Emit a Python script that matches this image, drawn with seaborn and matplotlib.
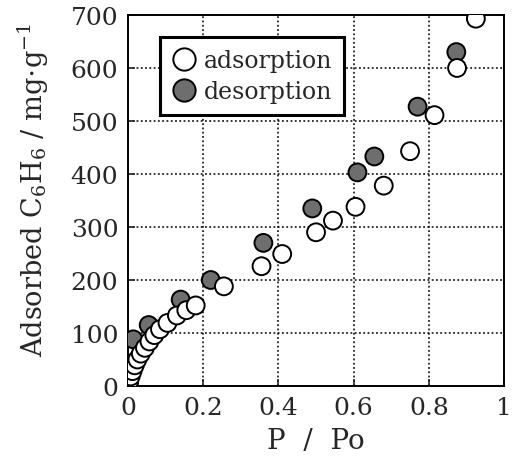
import numpy as np
import pandas as pd
import matplotlib
matplotlib.use("Agg")
import matplotlib.pyplot as plt
import seaborn as sns

# Données
p_ads = [0.003, 0.007, 0.012, 0.018, 0.025, 0.034, 0.045, 0.057, 0.070, 0.085,
         0.105, 0.130, 0.155, 0.180, 0.255, 0.355, 0.410, 0.500, 0.545, 0.605,
         0.680, 0.750, 0.815, 0.875, 0.925]
q_ads = [8, 18, 28, 39, 50, 61, 72, 84, 96, 107,
         119, 133, 143, 152, 188, 226, 249, 290, 312, 338,
         378, 443, 511, 600, 693]
p_des = [0.002, 0.014, 0.055, 0.140, 0.220, 0.360, 0.490, 0.610, 0.655, 0.770, 0.873]
q_des = [3, 88, 115, 163, 200, 270, 335, 403, 433, 527, 630]

x_ticks = [0, 0.2, 0.4, 0.6, 0.8, 1.0]
x_labels = ["0", "0.2", "0.4", "0.6", "0.8", "1"]
y_ticks = [0, 100, 200, 300, 400, 500, 600, 700]

# desorption d'abord pour que les cercles blancs passent devant
df = pd.concat([
    pd.DataFrame({"P": p_des, "Q": q_des, "branche": "desorption"}),
    pd.DataFrame({"P": p_ads, "Q": q_ads, "branche": "adsorption"}),
], ignore_index=True)

sns.set_style("ticks")
plt.rcParams['font.family'] = ['DejaVu Serif']
plt.rcParams['mathtext.fontset'] = 'dejavuserif'

fig = plt.figure(figsize=(5.17, 4.77), dpi=100)
ax = fig.add_axes([0.2476, 0.1887, 0.7274, 0.7778])

sns.scatterplot(data=df, x="P", y="Q", hue="branche",
                hue_order=["adsorption", "desorption"],
                palette={"adsorption": "white", "desorption": "#6e6e6e"},
                s=165, edgecolor="black", linewidth=1.4, ax=ax, zorder=3)

ax.set_xlim(0, 1)
ax.set_ylim(0, 700)
ax.set_xticks(x_ticks)
ax.set_xticklabels(x_labels)
ax.set_yticks(y_ticks)
ax.grid(True, color="black", linestyle=(0, (1.2, 1.6)), linewidth=1.1)
ax.tick_params(direction="in", length=5, width=1.2, labelsize=18, pad=7)
for sp in ax.spines.values():
    sp.set_color("black")
    sp.set_linewidth(1.4)

ax.set_xlabel("P  /  Po", fontsize=20, labelpad=6)
ax.set_ylabel(r"Adsorbed C$_6$H$_6$ / mg$\cdot$g$^{-1}$", fontsize=19.5)
ax.yaxis.set_label_coords(-0.205, 0.53)

sns.move_legend(ax, "upper left", bbox_to_anchor=(0.085, 0.94), title=None,
                frameon=True, fancybox=False, framealpha=1, edgecolor="black",
                fontsize=17, handletextpad=0.35, borderpad=0.5, markerscale=1.25,
                labelspacing=0.35, handlelength=1.0, borderaxespad=0)
ax.get_legend().get_frame().set_linewidth(2.2)

fig.savefig("out.png", dpi=100)
